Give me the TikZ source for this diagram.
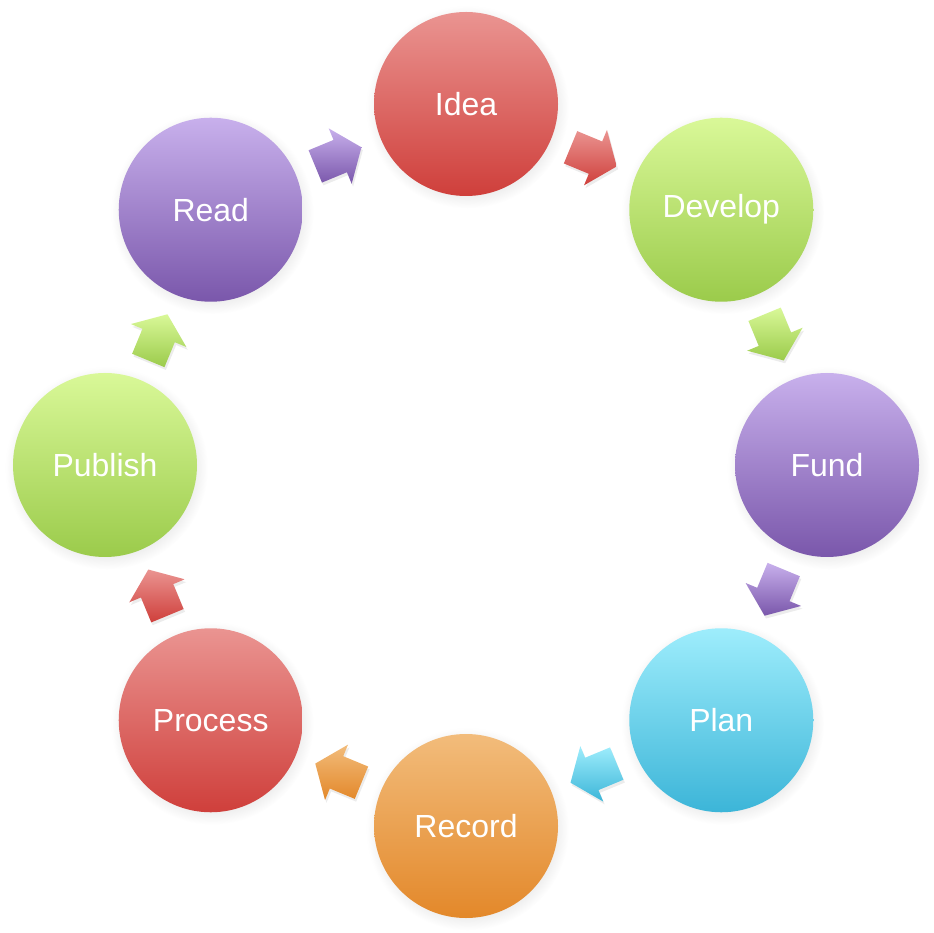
\documentclass[tikz,border=0pt]{standalone}
\usepackage{fontspec}
\setmainfont{Liberation Sans}
\usepackage{tikz}
\usetikzlibrary{calc,shadows}

\definecolor{redTop}{HTML}{EA9491}
\definecolor{redBot}{HTML}{CF3F3B}
\definecolor{greenTop}{HTML}{D9F898}
\definecolor{greenBot}{HTML}{9BCB4B}
\definecolor{purpleTop}{HTML}{C8B0EC}
\definecolor{purpleBot}{HTML}{7A57AB}
\definecolor{cyanTop}{HTML}{9EEDFC}
\definecolor{cyanBot}{HTML}{3CB5D8}
\definecolor{orangeTop}{HTML}{F2BC7B}
\definecolor{orangeBot}{HTML}{E3882A}

\tikzset{
  stage/.style={circle, minimum size=1.84cm, inner sep=0pt, text=white,
    font=\fontsize{9.1}{11}\selectfont,
    circular drop shadow={shadow xshift=0.4pt, shadow yshift=-0.8pt, opacity=0.15}},
  flow/.style={drop shadow={shadow xshift=0.4pt, shadow yshift=-0.8pt, opacity=0.15}}
}

\newcommand{\flowarrow}[3]{%
  \coordinate (m) at ($(#1)!0.5!(#2)$);
  \path[flow, top color=#3Top, bottom color=#3Bot]
    let \p1=($(#2)-(#1)$), \n1={atan2(\y1,\x1)} in
    ($(m)+(\n1:0.25)$) -- ($(m)+(\n1:0.02)+(\n1+90:0.30)$) -- ($(m)+(\n1:0.02)+(\n1+90:0.175)$)
    -- ($(m)+(\n1+180:0.25)+(\n1+90:0.175)$) -- ($(m)+(\n1+180:0.25)+(\n1-90:0.175)$)
    -- ($(m)+(\n1:0.02)+(\n1-90:0.175)$) -- ($(m)+(\n1:0.02)+(\n1-90:0.30)$) -- cycle;
}

\begin{document}
\begin{tikzpicture}
		\useasboundingbox (-4.66,-4.68) rectangle (4.67,4.65);

		\node[stage, top color=redTop, bottom color=redBot] (idea) at (90:3.61) {Idea};
		\node[stage, top color=greenTop, bottom color=greenBot] (develop) at (45:3.61) {Develop};
		\node[stage, top color=purpleTop, bottom color=purpleBot] (fund) at (0:3.61) {Fund};
		\node[stage, top color=cyanTop, bottom color=cyanBot] (plan) at (-45:3.61) {Plan};
		\node[stage, top color=orangeTop, bottom color=orangeBot] (record) at (-90:3.61) {Record};
		\node[stage, top color=redTop, bottom color=redBot] (process) at (-135:3.61) {Process};
		\node[stage, top color=greenTop, bottom color=greenBot] (publish) at (180:3.61) {Publish};
		\node[stage, top color=purpleTop, bottom color=purpleBot] (read) at (135:3.61) {Read};

		\flowarrow{idea}{develop}{red}
		\flowarrow{develop}{fund}{green}
		\flowarrow{fund}{plan}{purple}
		\flowarrow{plan}{record}{cyan}
		\flowarrow{record}{process}{orange}
		\flowarrow{process}{publish}{red}
		\flowarrow{publish}{read}{green}
		\flowarrow{read}{idea}{purple}
\end{tikzpicture}
\end{document}
